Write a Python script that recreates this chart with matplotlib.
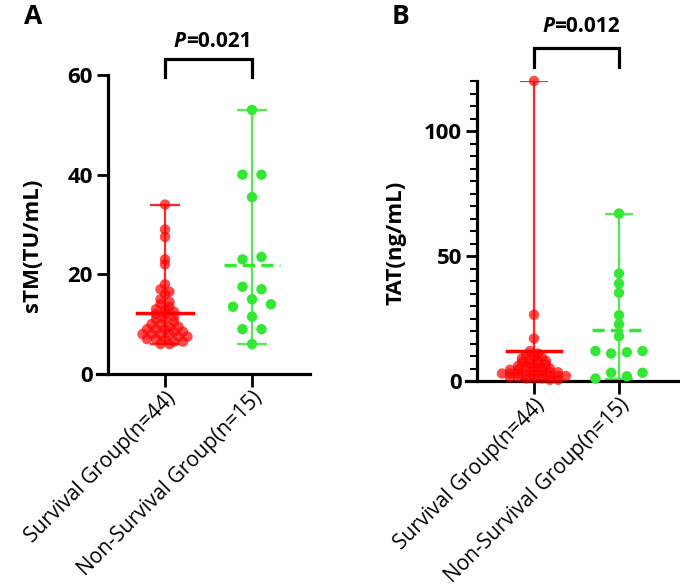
import numpy as np
import matplotlib
matplotlib.use("Agg")
import matplotlib.pyplot as plt

plt.rcParams['font.family'] = ['Open Sans', 'DejaVu Sans']

groups = ["Survival Group(n=44)", "Non-Survival Group(n=15)"]

stm_survival = [34, 29, 27.5, 23, 22, 18, 17, 16.5, 16, 15, 14.5, 14, 13.5, 13, 13,
                12.5, 12, 12, 11.5, 11, 11, 10.5, 10, 10, 9.5, 9.5, 9, 9, 9, 8.5,
                8.5, 8, 8, 8, 8, 7.5, 7.5, 7, 7, 7, 6.5, 6.5, 6, 6]
stm_nonsurvival = [53, 40, 40, 35.5, 23, 23.5, 17.5, 17, 13.5, 15, 14, 11.5, 9, 9, 6]
stm_center = [12.3, 21.8]

tat_survival = [120, 26.5, 17, 12, 11, 10.5, 10, 9.5, 9, 8.5, 8, 8, 7.5, 7, 7, 6.5,
                6, 6, 5.5, 5, 5, 4.5, 4.5, 4, 4, 4, 3.5, 3.5, 3, 3, 3, 2.5, 2.5,
                2.5, 2, 2, 2, 1.5, 1.5, 1, 1, 1, 0.5, 0.5]
tat_nonsurvival = [67, 43, 39, 35.3, 26.3, 22.7, 17.9, 12, 11, 11.5, 12, 1, 3.3, 1.9, 3.3]
tat_center = [11.9, 20.5]

p_values = ["0.021", "0.012"]

RED = '#FF0000'
GREEN = '#33E833'


def swarm(ax, vals, xc, row_px, step_px):
    # rows of nearly equal values are spread sideways, centred on the group
    vals = np.asarray(vals, float)
    p0 = ax.transData.transform((0, 0))
    p1 = ax.transData.transform((1, 1))
    px_x, px_y = p1[0] - p0[0], p1[1] - p0[1]
    order = np.argsort(-vals, kind='stable')
    rows = []
    for i in order:
        if rows and vals[rows[-1][0]] - vals[i] <= row_px / px_y:
            rows[-1].append(i)
        else:
            rows.append([i])
    xs = np.zeros(len(vals))
    for r in rows:
        r = sorted(r)
        n = len(r)
        for k, i in enumerate(r):
            xs[i] = xc + (k - (n - 1) / 2) * step_px / px_x
    return xs


def panel(ax, data, centers, ylim, yticks, ylabel, label_xy, letter, pval, spine_x,
          xlim, bracket_y, text_y, letter_xy, minor=None, steps=((9, 4), (19, 8.5))):
    ax.set_xlim(*xlim)
    ax.set_ylim(*ylim)
    ax.set_yticks(yticks)
    for s in ['top', 'right']:
        ax.spines[s].set_visible(False)
    ax.spines['left'].set_position(('data', spine_x))
    ax.spines['left'].set_linewidth(2.3)
    ax.spines['bottom'].set_linewidth(2.3)
    ax.tick_params(axis='y', length=8, width=2, direction='out', labelsize=16, pad=3)
    ax.tick_params(axis='x', length=9, width=2, direction='out', labelsize=15, pad=1)
    if minor is not None:
        ax.yaxis.set_minor_locator(matplotlib.ticker.MultipleLocator(minor))
        ax.tick_params(axis='y', which='minor', length=5, width=1.5)
    for t in ax.get_yticklabels():
        t.set_fontweight('bold')
    ax.set_xticks([0, 1])
    ax.set_xticklabels(groups, rotation=45, ha='right', va='top',
                       rotation_mode='anchor', fontweight='medium')
    ax.set_ylabel(ylabel, fontsize=16, fontweight='bold')
    ax.yaxis.set_label_coords(*label_xy)

    colors = [RED, GREEN]
    alphas = [0.7, 1.0]
    for g, (vals, c, a, (step, rowpx)) in enumerate(zip(data, colors, alphas, steps)):
        xs = swarm(ax, vals, g, rowpx, step)
        ax.vlines(g, min(vals), max(vals), color=c, lw=1.6, alpha=0.85, zorder=2)
        ax.hlines([min(vals), max(vals)], g - 0.17, g + 0.17, color=c, lw=1.6,
                  alpha=0.85, zorder=2)
        ls = '-' if g == 0 else (0, (3.5, 1.8))
        ax.plot([g - 0.32, g + 0.32], [centers[g]] * 2, color=c, lw=2.5, ls=ls,
                zorder=4, clip_on=False)
        ax.scatter(xs, vals, s=56, color=c, alpha=a, edgecolors='none', zorder=3,
                   clip_on=False)

    yb, yl = bracket_y
    ax.plot([0, 0, 1, 1], [yl, yb, yb, yl], color='black', lw=2.3, clip_on=False,
            solid_joinstyle='miter')
    ax.text(0.24, text_y, 'P', fontsize=15, fontweight='bold', style='italic',
            ha='right', va='center')
    ax.text(0.24, text_y, '=' + pval, fontsize=15, fontweight='bold',
            ha='left', va='center')
    ax.figure.text(letter_xy[0], letter_xy[1], letter, fontsize=19, fontweight='bold',
                   ha='left', va='top')


fig = plt.figure(figsize=(6.8, 5.88), dpi=100)
axA = fig.add_axes([97 / 680, 1 - 374 / 588, 213 / 680, 299 / 588])
axB = fig.add_axes([466 / 680, 1 - 381 / 588, 212 / 680, 300 / 588])

panel(axA, [stm_survival, stm_nonsurvival], stm_center, (0, 60), [0, 20, 40, 60],
      'sTM(TU/mL)', (-0.254, 0.43), 'A', p_values[0], -0.655, (-0.782, 1.667),
      (63.2, 59.6), 66.8, (24 / 680, 1 - 3 / 588), steps=((9, 4), (19, 8.5)))
panel(axB, [tat_survival, tat_nonsurvival], tat_center, (0, 120), [0, 50, 100],
      'TAT(ng/mL)', (-0.283, 0.46), 'B', p_values[1], -0.67, (-0.8, 1.694),
      (133.2, 125.6), 141.6, (392 / 680, 1 - 3 / 588), minor=5,
      steps=((8, 3), (15.7, 8.5)))

fig.savefig('out.png', dpi=100)
